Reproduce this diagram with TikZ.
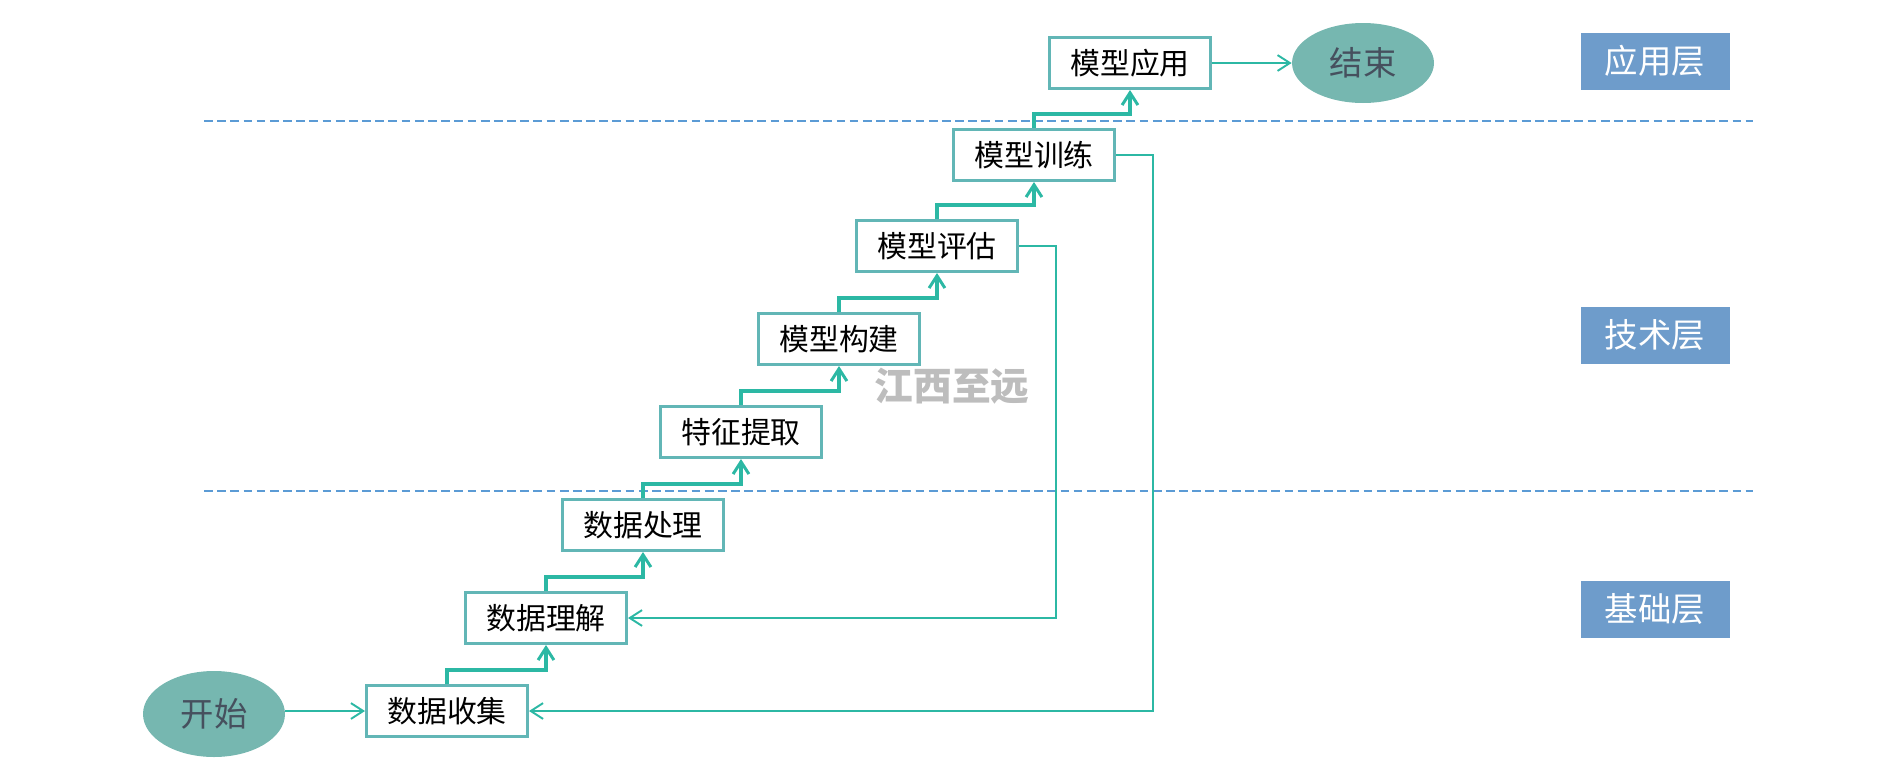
\documentclass[tikz,border=0pt]{standalone}
\usepackage{fontspec}
\setmainfont{Noto Sans CJK SC}
\usetikzlibrary{positioning,calc,arrows.meta,shapes.geometric}

\definecolor{boxline}{HTML}{62B6B6}
\definecolor{flowline}{HTML}{2CB8A4}
\definecolor{ovalfill}{HTML}{76B7B0}
\definecolor{ovaltext}{HTML}{46505E}
\definecolor{layerfill}{HTML}{6E9CCB}
\definecolor{dashblue}{HTML}{5B9BD5}

\begin{document}
\begin{tikzpicture}[x=0.02cm, y=-0.02cm,
  stepbox/.style={draw=boxline, line width=1.7pt, fill=white, inner sep=0pt,
    minimum width=3.22cm, minimum height=1.02cm, font=\fontsize{17}{20}\selectfont},
  oval/.style={ellipse, fill=ovalfill, text=ovaltext, inner sep=0pt,
    minimum width=2.84cm, font=\fontsize{19}{22}\selectfont},
  layer/.style={fill=layerfill, text=white, inner sep=0pt,
    minimum width=2.98cm, minimum height=1.14cm, font=\fontsize{19}{22}\selectfont},
  upflow/.style={draw=flowline, line width=2pt,
    -{Straight Barb[length=7pt, width=9pt, line width=1.7pt]}},
  backflow/.style={draw=flowline, line width=1.1pt,
    -{Straight Barb[length=7pt, width=9pt, line width=1.1pt]}},
  divider/.style={draw=dashblue, line width=1pt, dash pattern=on 5pt off 2.5pt}]
\useasboundingbox (0,0) rectangle (1900,772);

% layers
\coordinate (div1l) at (204,121); \coordinate (div1r) at (1753,121);
\coordinate (div2l) at (204,491); \coordinate (div2r) at (1753,491);
\draw[divider] (div1l) -- (div1r);
\draw[divider] (div2l) -- (div2r);
\node[layer] (app)  at (1655,61)  {应用层};
\node[layer] (tech) at (1655,335) {技术层};
\node[layer] (base) at (1655,609) {基础层};

% watermark
\node[text=black!26, font=\fontsize{22}{24}\selectfont\bfseries] (mark) at (952,386) {江西至远};

% steps
\node[oval, minimum height=1.72cm] (start) at (214,714) {开始};
\node[stepbox] (collect) at (447,711) {数据收集};
\node[stepbox] (understand) at (546,618) {数据理解};
\node[stepbox] (prepare) at (643,525) {数据处理};
\node[stepbox] (feature) at (741,432) {特征提取};
\node[stepbox] (build) at (839,339) {模型构建};
\node[stepbox] (evaluate) at (937,246) {模型评估};
\node[stepbox] (train) at (1034,155) {模型训练};
\node[stepbox] (apply) at (1130,63) {模型应用};
\node[oval, minimum height=1.6cm] (finish) at (1363,63) {结束};

% staircase
\foreach \lo/\hi in {collect/understand, understand/prepare, prepare/feature,
    feature/build, build/evaluate, evaluate/train, train/apply}
  \draw[upflow] (\lo.north) -- ++(0,-14) -| (\hi.south);

\draw[backflow] (start.east |- collect) -- (collect.west);
\draw[backflow] (apply.east) -- (finish.west);
\draw[backflow] (evaluate.east) -- ++(37,0) |- (understand.east);
\draw[backflow] (train.east) -- ++(37,0) |- (collect.east);
\end{tikzpicture}
\end{document}
